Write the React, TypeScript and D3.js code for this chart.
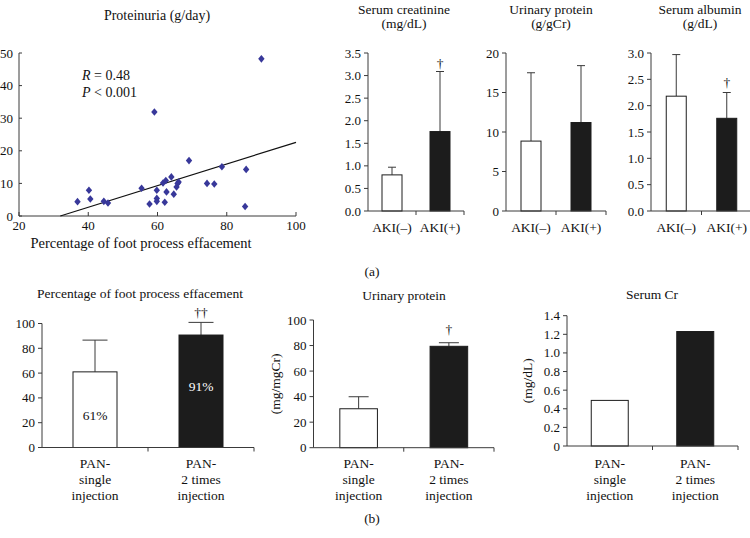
import React from "react";
import * as d3 from "d3";

// ---------- DATA ----------
const scatterX = [36.9, 40.2, 40.6, 44.5, 45.7, 55.4, 57.7, 59.1, 59.8, 59.8, 59.8, 62.1, 61.6, 62.4, 62.6, 64.0, 64.7, 65.5, 65.8, 66.1, 69.1, 74.3, 76.4, 78.6, 85.6, 85.3, 90.0];
const scatterY = [4.4, 7.9, 5.2, 4.5, 4.0, 8.5, 3.7, 31.9, 7.9, 5.4, 4.5, 4.2, 10.1, 10.9, 7.4, 12.0, 6.7, 8.9, 10.0, 10.4, 17.0, 10.0, 9.8, 15.1, 14.3, 2.9, 48.2];
const regSlope = 0.332;
const regIntercept = -10.6;
const scatterXTicks = [20, 40, 60, 80, 100];
const scatterYTicks = [0, 10, 20, 30, 40, 50];

const topCategories = ["AKI(–)", "AKI(+)"];
const creatinineMean = [0.8, 1.76];
const creatinineSD = [0.17, 1.33];
const creatinineTicks = [0, 0.5, 1.0, 1.5, 2.0, 2.5, 3.0, 3.5];
const urinaryGMean = [8.85, 11.2];
const urinaryGSD = [8.65, 7.2];
const urinaryGTicks = [0, 5, 10, 15, 20];
const albuminMean = [2.18, 1.76];
const albuminSD = [0.79, 0.49];
const albuminTicks = [0, 0.5, 1.0, 1.5, 2.0, 2.5, 3.0];

const bottomCategories = [["PAN-", "single", "injection"], ["PAN-", "2 times", "injection"]];
const effacementMean = [61, 90.7];
const effacementSD = [25.6, 10.2];
const effacementLabels = ["61%", "91%"];
const effacementTicks = [0, 20, 40, 60, 80, 100];
const urinaryMgMean = [30.5, 79.4];
const urinaryMgSD = [9.4, 2.8];
const urinaryMgTicks = [0, 20, 40, 60, 80, 100];
const serumCrMean = [0.49, 1.23];
const serumCrTicks = [0, 0.2, 0.4, 0.6, 0.8, 1.0, 1.2, 1.4];

// ---------- STYLE ----------
const FONT = "'Liberation Serif', 'DejaVu Serif', serif";
const AXIS = "#3a3a3a";
const DARK = "#1c1c1c";
const DOT = "#38389a";
const TXT = "#111";
const FS_TICK = 13;
const FS_LABEL = 13.5;

type Panel = {
  x0: number; x1: number; yBottom: number; yTop: number;
  max: number; ticks: number[]; fmt: (v: number) => string;
  cats: string[][]; means: number[]; sds?: number[]; barW: number; capW: number;
  labelY: number[]; daggers?: string[]; daggerY?: number[];
  titles: string[]; titleX: number; titleY: number[];
  yLabel?: string; yLabelX?: number; inner?: string[]; innerY?: number[];
};

function BarPanel({ p }: { p: Panel }) {
  const x = d3.scaleBand<number>().domain(p.means.map((_, i) => i)).range([p.x0, p.x1]).padding(0);
  const y = d3.scaleLinear().domain([0, p.max]).range([p.yBottom, p.yTop]);
  const bw = x.bandwidth();
  return (
    <g fontFamily={FONT} fill={TXT}>
      {p.titles.map((t, i) => (
        <text key={"t" + i} x={p.titleX} y={p.titleY[i]} textAnchor="middle" dominantBaseline="central" fontSize={FS_LABEL}>{t}</text>
      ))}
      {p.yLabel && (
        <text transform={`translate(${p.yLabelX},${(p.yBottom + p.yTop) / 2}) rotate(-90)`} textAnchor="middle" dominantBaseline="central" fontSize={FS_LABEL}>{p.yLabel}</text>
      )}
      {p.means.map((m, i) => {
        const cx = (x(i) as number) + bw / 2;
        const fill = i === 0 ? "#fff" : DARK;
        return (
          <g key={"b" + i}>
            {p.sds && (
              <g stroke={AXIS} strokeWidth={1}>
                <line x1={cx} x2={cx} y1={y(m)} y2={y(m + p.sds[i])} />
                <line x1={cx - p.capW / 2} x2={cx + p.capW / 2} y1={y(m + p.sds[i])} y2={y(m + p.sds[i])} />
              </g>
            )}
            <rect x={cx - p.barW / 2} y={y(m)} width={p.barW} height={y(0) - y(m)} fill={fill} stroke={DARK} strokeWidth={1} />
            {p.daggers && p.daggers[i] && (
              <text x={cx} y={p.daggerY![i]} textAnchor="middle" dominantBaseline="central" fontSize={FS_LABEL} fill={TXT}>{p.daggers[i]}</text>
            )}
            {p.inner && (
              <text x={cx} y={p.innerY![i]} textAnchor="middle" dominantBaseline="central" fontSize={FS_LABEL} fill={i === 0 ? TXT : "#fff"}>{p.inner[i]}</text>
            )}
            {p.cats[i].map((c, j) => (
              <text key={j} x={cx} y={p.labelY[j]} textAnchor="middle" dominantBaseline="central" fontSize={FS_LABEL}>{c}</text>
            ))}
          </g>
        );
      })}
      <g stroke={AXIS} strokeWidth={1}>
        <line x1={p.x0} x2={p.x0} y1={p.yTop} y2={p.yBottom} />
        <line x1={p.x0} x2={p.x1} y1={p.yBottom} y2={p.yBottom} />
        {p.ticks.map((t) => (
          <line key={"yt" + t} x1={p.x0 - 4} x2={p.x0} y1={y(t)} y2={y(t)} />
        ))}
        {p.means.map((_, i) => (
          <line key={"xt" + i} x1={(x(i) as number) + bw} x2={(x(i) as number) + bw} y1={p.yBottom} y2={p.yBottom + 4} />
        ))}
      </g>
      {p.ticks.map((t) => (
        <text key={"yl" + t} x={p.x0 - 7} y={y(t)} textAnchor="end" dominantBaseline="central" fontSize={FS_TICK}>{p.fmt(t)}</text>
      ))}
    </g>
  );
}

function Scatter() {
  const x = d3.scaleLinear().domain([20, 100]).range([19, 296]);
  const y = d3.scaleLinear().domain([0, 50]).range([216, 53]);
  const xStart = -regIntercept / regSlope;
  return (
    <g fontFamily={FONT} fill={TXT}>
      <text x={157} y={15} textAnchor="middle" dominantBaseline="central" fontSize={14}>Proteinuria (g/day)</text>
      <g stroke={AXIS} strokeWidth={1}>
        <line x1={x(20)} x2={x(20)} y1={y(50)} y2={y(0)} />
        <line x1={x(20)} x2={x(100)} y1={y(0)} y2={y(0)} />
        {scatterYTicks.map((t) => <line key={t} x1={x(20)} x2={x(20) + 3} y1={y(t)} y2={y(t)} />)}
        {scatterXTicks.map((t) => <line key={t} x1={x(t)} x2={x(t)} y1={y(0)} y2={y(0) - 4} />)}
      </g>
      {scatterYTicks.map((t) => (
        <text key={t} x={13} y={y(t)} textAnchor="end" dominantBaseline="central" fontSize={FS_TICK}>{t}</text>
      ))}
      {scatterXTicks.map((t) => (
        <text key={t} x={x(t)} y={225} textAnchor="middle" dominantBaseline="central" fontSize={FS_TICK}>{t}</text>
      ))}
      <text x={141} y={243} textAnchor="middle" dominantBaseline="central" fontSize={14.5}>Percentage of foot process effacement</text>
      <line x1={x(xStart)} y1={y(0)} x2={x(100)} y2={y(regSlope * 100 + regIntercept)} stroke="#111" strokeWidth={1.2} />
      {scatterX.map((v, i) => {
        const cx = x(v), cy = y(scatterY[i]);
        return <path key={i} d={`M${cx},${cy - 3.8}L${cx + 3.2},${cy}L${cx},${cy + 3.8}L${cx - 3.2},${cy}Z`} fill={DOT} />;
      })}
      <text x={82} y={75} dominantBaseline="central" fontSize={14}><tspan fontStyle="italic">R</tspan> = 0.48</text>
      <text x={82} y={92} dominantBaseline="central" fontSize={14}><tspan fontStyle="italic">P</tspan> &lt; 0.001</text>
    </g>
  );
}

const f1 = (v: number) => v.toFixed(1);
const f0 = (v: number) => String(v);
const fCr = (v: number) => (v === 0 ? "0" : v.toFixed(1));

const panels: Panel[] = [
  { x0: 368, x1: 464, yBottom: 211, yTop: 53, max: 3.5, ticks: creatinineTicks, fmt: f1,
    cats: topCategories.map((c) => [c]), means: creatinineMean, sds: creatinineSD, barW: 20, capW: 8,
    labelY: [227], daggers: ["", "†"], daggerY: [0, 63], titles: ["Serum creatinine", "(mg/dL)"], titleX: 404, titleY: [9, 23] },
  { x0: 506, x1: 606, yBottom: 211, yTop: 53, max: 20, ticks: urinaryGTicks, fmt: f0,
    cats: topCategories.map((c) => [c]), means: urinaryGMean, sds: urinaryGSD, barW: 20, capW: 8,
    labelY: [227], titles: ["Urinary protein", "(g/gCr)"], titleX: 551, titleY: [9, 23] },
  { x0: 651, x1: 752, yBottom: 211, yTop: 53, max: 3.0, ticks: albuminTicks, fmt: f1,
    cats: topCategories.map((c) => [c]), means: albuminMean, sds: albuminSD, barW: 20, capW: 8,
    labelY: [227], daggers: ["", "†"], daggerY: [0, 82], titles: ["Serum albumin", "(g/dL)"], titleX: 700, titleY: [9, 23] },
  { x0: 42, x1: 254, yBottom: 447.5, yTop: 323.5, max: 100, ticks: effacementTicks, fmt: f0,
    cats: bottomCategories, means: effacementMean, sds: effacementSD, barW: 44, capW: 25,
    labelY: [463, 479, 495], daggers: ["", "††"], daggerY: [0, 312], titles: ["Percentage of foot process effacement"], titleX: 140, titleY: [293],
    inner: effacementLabels, innerY: [415.5, 386.5] },
  { x0: 313.5, x1: 494, yBottom: 447.7, yTop: 320, max: 100, ticks: urinaryMgTicks, fmt: f0,
    cats: bottomCategories, means: urinaryMgMean, sds: urinaryMgSD, barW: 37.6, capW: 20,
    labelY: [463, 479, 495], daggers: ["", "†"], daggerY: [0, 329], titles: ["Urinary protein"], titleX: 404, titleY: [295.5],
    yLabel: "(mg/mgCr)", yLabelX: 275 },
  { x0: 567, x1: 738, yBottom: 446, yTop: 315.7, max: 1.4, ticks: serumCrTicks, fmt: fCr,
    cats: bottomCategories, means: serumCrMean, barW: 37, capW: 0,
    labelY: [463, 479, 495], titles: ["Serum Cr"], titleX: 652, titleY: [294],
    yLabel: "(mg/dL)", yLabelX: 527 },
];

export default function App() {
  return (
    <svg width={750} height={538} style={{ position: "absolute", left: 0, top: 0, background: "#fff" }}>
      <rect width={750} height={538} fill="#fff" />
      <Scatter />
      {panels.map((p, i) => <BarPanel key={i} p={p} />)}
      <text x={372} y={271} textAnchor="middle" dominantBaseline="central" fontFamily={FONT} fontSize={FS_LABEL} fill={TXT}>(a)</text>
      <text x={372} y={518} textAnchor="middle" dominantBaseline="central" fontFamily={FONT} fontSize={FS_LABEL} fill={TXT}>(b)</text>
    </svg>
  );
}
